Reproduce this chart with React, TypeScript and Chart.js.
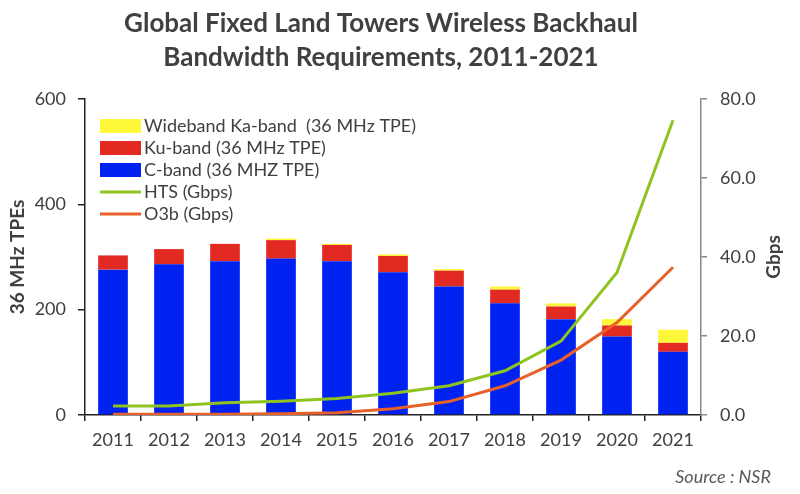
import React, { useEffect, useRef } from "react";
import { Chart, registerables } from "chart.js";

Chart.register(...registerables);

const years = ["2011","2012","2013","2014","2015","2016","2017","2018","2019","2020","2021"];
const cBand = [276, 286, 292, 297, 292, 271, 244, 212, 182, 149, 120];
const kuBand = [27, 29, 33, 35, 31, 31, 30, 26, 24, 21, 17];
const kaBand = [0, 0, 0, 3, 2, 3, 3, 6, 6, 12, 25];
const hts = [2.3, 2.3, 3.1, 3.5, 4.2, 5.5, 7.4, 11.2, 18.7, 36.1, 74.6];
const o3b = [0.2, 0.2, 0.2, 0.3, 0.6, 1.6, 3.4, 7.4, 13.9, 23.4, 37.4];

const titleLines = ["Global Fixed Land Towers Wireless Backhaul", "Bandwidth Requirements, 2011-2021"];
const sourceText = "Source : NSR";
const rightTitle = "Gbps";
const FONT = "Lato, 'Open Sans', sans-serif";
const TEXT = "#404040";

const overlayPlugin = {
  id: "overlay",
  afterDraw(chart: any) {
    const ctx = chart.ctx;
    const area = chart.chartArea;
    ctx.save();
    // title
    ctx.fillStyle = TEXT;
    ctx.font = `bold 26px ${FONT}`;
    ctx.textAlign = "center";
    ctx.textBaseline = "middle";
    ctx.fillText(titleLines[0], 381, 24);
    ctx.fillText(titleLines[1], 381, 58);
    // right axis title (reads bottom to top)
    ctx.save();
    ctx.font = `bold 19px ${FONT}`;
    ctx.translate(774, (area.top + area.bottom) / 2);
    ctx.rotate(-Math.PI / 2);
    ctx.fillText(rightTitle, 0, 0);
    ctx.restore();
    // source
    ctx.font = `italic 18px ${FONT}`;
    ctx.fillStyle = "#595959";
    ctx.textAlign = "right";
    ctx.fillText(sourceText, 771, 477);
    // legend
    const order = [2, 1, 0, 3, 4];
    const x0 = area.left + 15;
    let y = area.top + 27;
    ctx.font = `18px ${FONT}`;
    ctx.textAlign = "left";
    for (const idx of order) {
      const ds = chart.data.datasets[idx];
      if (ds.type === "line") {
        ctx.strokeStyle = ds.borderColor;
        ctx.lineWidth = 3;
        ctx.beginPath();
        ctx.moveTo(x0, y);
        ctx.lineTo(x0 + 41, y);
        ctx.stroke();
      } else {
        ctx.fillStyle = ds.backgroundColor;
        ctx.fillRect(x0, y - 7, 41, 14);
      }
      ctx.fillStyle = TEXT;
      ctx.fillText(ds.label, x0 + 44, y);
      y += 22;
    }
    ctx.restore();
  },
};

export default function App() {
  const ref = useRef<HTMLCanvasElement>(null);
  useEffect(() => {
    if (!ref.current) return;
    const chart = new Chart(ref.current, {
      type: "bar",
      data: {
        labels: years,
        datasets: [
          { type: "bar", label: "C-band (36 MHZ TPE)", data: cBand, backgroundColor: "#0022F0", yAxisID: "y", stack: "s", order: 1, barPercentage: 0.53, categoryPercentage: 1 },
          { type: "bar", label: "Ku-band (36 MHz TPE)", data: kuBand, backgroundColor: "#E22A22", yAxisID: "y", stack: "s", order: 1, barPercentage: 0.53, categoryPercentage: 1 },
          { type: "bar", label: "Wideband Ka-band  (36 MHz TPE)", data: kaBand, backgroundColor: "#FFF73A", yAxisID: "y", stack: "s", order: 1, barPercentage: 0.53, categoryPercentage: 1 },
          { type: "line", label: "HTS (Gbps)", data: hts, borderColor: "#8FC31F", backgroundColor: "#8FC31F", borderWidth: 3, pointRadius: 0, yAxisID: "y1", order: 0, tension: 0 },
          { type: "line", label: "O3b (Gbps)", data: o3b, borderColor: "#E8602A", backgroundColor: "#E8602A", borderWidth: 3, pointRadius: 0, yAxisID: "y1", order: 0, tension: 0 },
        ] as any,
      },
      options: {
        responsive: false,
        animation: false,
        layout: { padding: { top: 99, left: 0, right: 9, bottom: 0 } },
        plugins: { legend: { display: false }, title: { display: false }, tooltip: { enabled: false } },
        scales: {
          x: {
            stacked: true,
            offset: true,
            grid: { display: true, drawOnChartArea: false, offset: true, tickLength: 6, color: "#222", lineWidth: 1.5 },
            border: { display: true, color: "#222", width: 1.5 },
            ticks: { color: TEXT, font: { family: FONT, size: 18 }, padding: 8 },
            afterFit(scale: any) { scale.height = 79; },
          },
          y: {
            position: "left",
            stacked: true,
            min: 0,
            max: 600,
            ticks: { stepSize: 200, color: TEXT, font: { family: FONT, size: 18 }, padding: 12 },
            grid: { display: true, drawOnChartArea: false, tickLength: 7, color: "#222", lineWidth: 1.5 },
            border: { display: true, color: "#222", width: 1.5 },
            title: { display: true, text: "36 MHz TPEs", color: TEXT, font: { family: FONT, size: 19, weight: "bold" }, padding: { top: 6, bottom: 0 } },
            afterFit(scale: any) { scale.width = 85; },
          },
          y1: {
            position: "right",
            min: 0,
            max: 80,
            ticks: { stepSize: 20, color: TEXT, font: { family: FONT, size: 18 }, padding: 13, callback: (v: any) => Number(v).toFixed(1) },
            grid: { display: true, drawOnChartArea: false, tickLength: 6, color: "#888", lineWidth: 1.5 },
            border: { display: true, color: "#888", width: 1.5 },
            title: { display: false },
            afterFit(scale: any) { scale.width = 90; },
          },
        },
      } as any,
      plugins: [overlayPlugin],
    });
    return () => chart.destroy();
  }, []);
  return (
    <div style={{ position: "fixed", left: 0, top: 0, width: 800, height: 494, background: "#fff" }}>
      <canvas ref={ref} width={800} height={494} style={{ width: 800, height: 494 }} />
    </div>
  );
}
